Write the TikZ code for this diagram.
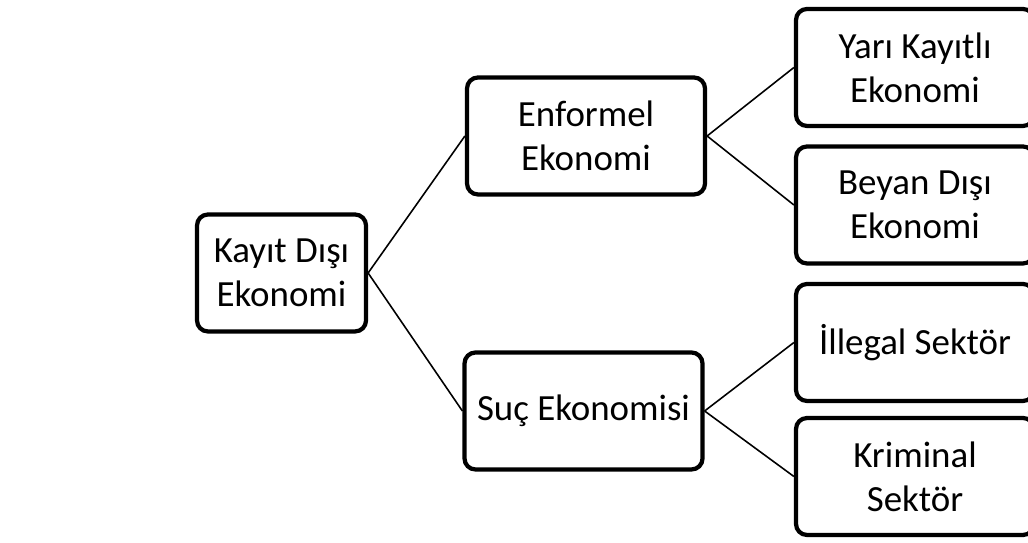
\documentclass[tikz,border=0pt]{standalone}
\usepackage{fontspec}
\setmainfont{Carlito}
\usepackage{tikz}
\usetikzlibrary{positioning}

\begin{document}
\begin{tikzpicture}[
  box/.style={draw, line width=2.4pt, rounded corners=0.22cm, fill=white,
              minimum height=2.34cm, align=center, inner sep=2pt,
              font=\fontsize{21}{25}\selectfont},
  link/.style={line width=0.9pt}
]
  \clip (0,0) rectangle (20.56,10.86);
  \node[box, minimum width=3.38cm] (kde) at (5.63,5.40) {Kayıt Dışı\\Ekonomi};
  \node[box, minimum width=4.76cm] (enf) at (11.72,8.14) {Enformel\\Ekonomi};
  \node[box, minimum width=4.76cm] (suc) at (11.67,2.64) {Suç Ekonomisi};
  \node[box, minimum width=4.76cm] (yari)  at (18.30,9.51) {Yarı Kayıtlı\\Ekonomi};
  \node[box, minimum width=4.76cm] (beyan) at (18.30,6.76) {Beyan Dışı\\Ekonomi};
  \node[box, minimum width=4.76cm] (ille)  at (18.30,4.01) {İllegal Sektör};
  \node[box, minimum width=4.76cm] (krim)  at (18.30,1.33) {Kriminal\\Sektör};
  \draw[link] (kde.east) -- (enf.west);
  \draw[link] (kde.east) -- (suc.west);
  \draw[link] (enf.east) -- (yari.west);
  \draw[link] (enf.east) -- (beyan.west);
  \draw[link] (suc.east) -- (ille.west);
  \draw[link] (suc.east) -- (krim.west);
\end{tikzpicture}
\end{document}
